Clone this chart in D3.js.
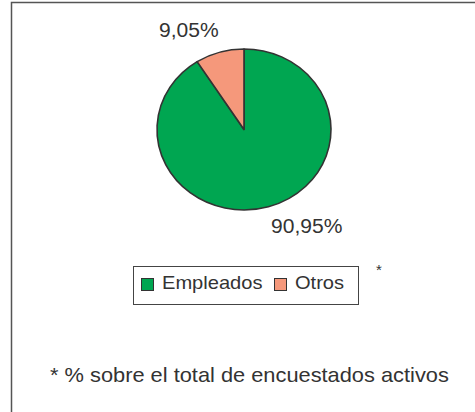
<!DOCTYPE html>
<html>
<head>
<meta charset="utf-8">
<script src="https://cdn.jsdelivr.net/npm/d3@7"></script>
<style>
  html, body { margin: 0; padding: 0; background: #fff; }
  svg { display: block; }
  text { font-family: "Liberation Sans", Arial, sans-serif; fill: #333; }
</style>
</head>
<body>
<svg id="chart" width="475" height="412"></svg>
<script>
// ---- data ----
const categories = ["Empleados", "Otros"];
const values = [90.95, 9.05];
const valueLabels = ["90,95%", "9,05%"];
const colors = ["#00a651", "#f5987b"];
const footnote = "* % sobre el total de encuestados activos";

// ---- layout ----
const W = 475, H = 412;
const cx = 244, cy = 129.5, rx = 87, ry = 80.5;
const stretch = 1.08; // horizontal stretch of the original picture
const svg = d3.select("#chart");

// frame (left + top visible)
svg.append("path")
  .attr("d", `M11.5,${H} L11.5,2.5 L${W},2.5`)
  .attr("fill", "none").attr("stroke", "#555").attr("stroke-width", 1.5);

const pie = d3.pie().sort(null).value(d => d.v)
  .startAngle(0).endAngle(2 * Math.PI);
const data = categories.map((c, i) => ({ c, v: values[i], label: valueLabels[i], color: colors[i] }));
const arcs = pie(data);
const arc = d3.arc().innerRadius(0).outerRadius(rx);

const g = svg.append("g").attr("transform", `translate(${cx},${cy}) scale(1,${ry / rx})`);
g.selectAll("path.slice").data(arcs).enter().append("path")
  .attr("class", "slice")
  .attr("d", arc)
  .attr("fill", d => d.data.color)
  .attr("stroke", "#333")
  .attr("stroke-width", 1.6)
  .attr("stroke-linejoin", "round");

// value labels placed outside the pie
const labelPos = [
  { ang: 149, dist: 1.40, dy: 7 },    // Empleados
  { ang: -28, dist: 1.35, dy: 3.5 }   // Otros
];
svg.selectAll("text.vlabel").data(arcs).enter().append("text")
  .attr("class", "vlabel")
  .attr("text-anchor", "middle")
  .attr("font-size", 19.5)
  .attr("transform", (d, i) => {
    const p = labelPos[i], a = p.ang * Math.PI / 180;
    const x = cx + Math.sin(a) * rx * p.dist;
    const y = cy - Math.cos(a) * ry * p.dist + p.dy;
    return `translate(${x},${y}) scale(${stretch},1)`;
  })
  .text(d => d.data.label);

// legend
const lg = svg.append("g");
lg.append("rect").attr("x", 133.5).attr("y", 266.5).attr("width", 225).attr("height", 38)
  .attr("fill", "#fff").attr("stroke", "#444").attr("stroke-width", 1);
const legendX = [141, 274];
const items = lg.selectAll("g.item").data(data).enter().append("g")
  .attr("class", "item")
  .attr("transform", (d, i) => `translate(${legendX[i]},278)`);
items.append("rect").attr("x", 0.5).attr("y", 0.5).attr("width", 12).attr("height", 12)
  .attr("fill", d => d.color).attr("stroke", "#333").attr("stroke-width", 1);
items.append("text").attr("font-size", 18.6)
  .attr("transform", `translate(21,10.5) scale(${stretch},1)`).text(d => d.c);

// asterisk
svg.append("text").attr("x", 379).attr("y", 275).attr("text-anchor", "middle")
  .attr("font-size", 15).text("*");

// footnote
svg.append("text").attr("font-size", 20.2)
  .attr("transform", `translate(50,382) scale(${stretch},1)`)
  .text(footnote);
</script>
</body>
</html>
